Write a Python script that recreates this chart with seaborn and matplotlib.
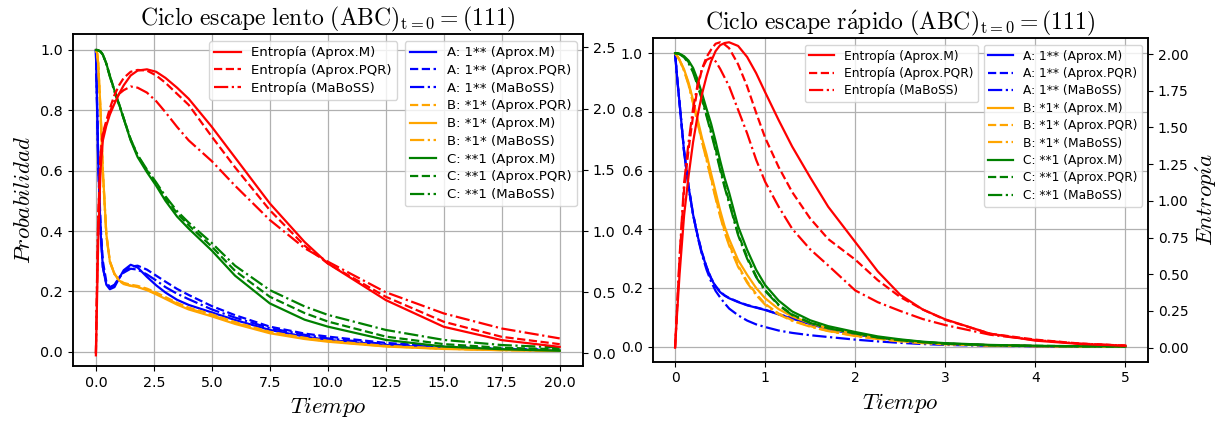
import matplotlib
matplotlib.use("Agg")
import matplotlib.pyplot as plt
import seaborn as sns

# ---------------- data: slow escape cycle ----------------
t_lento = [0, 0.05, 0.1, 0.2, 0.3, 0.45, 0.6, 0.8, 1.0, 1.2, 1.5, 1.8, 2.2, 2.6, 3.0,
           3.5, 4.0, 5.0, 6.0, 7.5, 9.0, 10.0, 12.5, 15.0, 17.5, 20.0]
lento_A_M = [1.0, 0.82, 0.63, 0.40, 0.28, 0.222, 0.207, 0.214, 0.243, 0.270, 0.288, 0.279, 0.248,
             0.220, 0.196, 0.172, 0.155, 0.130, 0.105, 0.072, 0.050, 0.039, 0.022, 0.012, 0.007, 0.004]
lento_A_PQR = [1.0, 0.83, 0.65, 0.42, 0.30, 0.232, 0.214, 0.220, 0.244, 0.265, 0.282, 0.285, 0.272,
               0.252, 0.232, 0.208, 0.188, 0.151, 0.121, 0.083, 0.060, 0.050, 0.029, 0.017, 0.010, 0.006]
lento_A_MaBoSS = [1.0, 0.81, 0.62, 0.40, 0.28, 0.225, 0.212, 0.222, 0.245, 0.262, 0.275, 0.272, 0.256,
                  0.236, 0.214, 0.192, 0.174, 0.140, 0.113, 0.078, 0.056, 0.044, 0.025, 0.014, 0.009, 0.005]
lento_B_M = [1.0, 0.99, 0.955, 0.80, 0.60, 0.39, 0.30, 0.258, 0.236, 0.226, 0.219, 0.214, 0.204,
             0.190, 0.175, 0.156, 0.140, 0.117, 0.092, 0.061, 0.042, 0.033, 0.017, 0.009, 0.005, 0.003]
lento_B_PQR = [1.0, 0.99, 0.955, 0.80, 0.60, 0.39, 0.30, 0.258, 0.237, 0.228, 0.222, 0.218, 0.209,
               0.196, 0.181, 0.162, 0.146, 0.124, 0.098, 0.066, 0.046, 0.036, 0.019, 0.010, 0.006, 0.003]
lento_B_MaBoSS = [1.0, 0.99, 0.952, 0.79, 0.59, 0.385, 0.298, 0.257, 0.235, 0.224, 0.218, 0.215, 0.206,
                  0.193, 0.178, 0.159, 0.143, 0.121, 0.095, 0.064, 0.044, 0.035, 0.018, 0.010, 0.005, 0.003]
lento_C_M = [1.0, 1.0, 0.999, 0.995, 0.985, 0.955, 0.915, 0.866, 0.820, 0.772, 0.700, 0.645, 0.595,
             0.550, 0.500, 0.448, 0.408, 0.335, 0.252, 0.160, 0.106, 0.083, 0.039, 0.017, 0.008, 0.003]
lento_C_PQR = [1.0, 1.0, 0.999, 0.995, 0.985, 0.955, 0.915, 0.866, 0.821, 0.774, 0.703, 0.650, 0.601,
               0.557, 0.509, 0.459, 0.419, 0.348, 0.268, 0.182, 0.128, 0.100, 0.050, 0.025, 0.013, 0.008]
lento_C_MaBoSS = [1.0, 1.0, 0.999, 0.994, 0.984, 0.953, 0.912, 0.862, 0.818, 0.772, 0.704, 0.652, 0.604,
                  0.561, 0.515, 0.466, 0.428, 0.360, 0.285, 0.204, 0.150, 0.122, 0.072, 0.039, 0.022, 0.014]
lento_H_M = [-0.015, 0.45, 0.92, 1.50, 1.74, 1.86, 1.95, 2.04, 2.12, 2.19, 2.27, 2.31, 2.32,
             2.30, 2.25, 2.17, 2.08, 1.85, 1.60, 1.225, 0.91, 0.735, 0.436, 0.218, 0.109, 0.054]
lento_H_PQR = [0.0, 0.58, 1.10, 1.62, 1.80, 1.90, 2.00, 2.11, 2.19, 2.25, 2.30, 2.315, 2.31,
               2.27, 2.21, 2.12, 2.03, 1.77, 1.52, 1.17, 0.88, 0.735, 0.463, 0.259, 0.136, 0.076]
lento_H_MaBoSS = [0.0, 0.60, 1.12, 1.62, 1.79, 1.88, 1.97, 2.06, 2.12, 2.15, 2.18, 2.17, 2.13,
                  2.06, 1.97, 1.85, 1.74, 1.57, 1.37, 1.09, 0.86, 0.75, 0.50, 0.327, 0.204, 0.123]

# ---------------- data: fast escape cycle ----------------
t_rapido = [0, 0.025, 0.05, 0.1, 0.15, 0.2, 0.25, 0.3, 0.35, 0.4, 0.45, 0.5, 0.55, 0.6, 0.7, 0.8,
            0.9, 1.0, 1.15, 1.3, 1.5, 1.7, 2.0, 2.25, 2.5, 2.75, 3.0, 3.5, 4.0, 4.5, 5.0]
rapido_A_M = [1.0, 0.91, 0.83, 0.665, 0.545, 0.45, 0.378, 0.318, 0.27, 0.232, 0.205, 0.186, 0.174, 0.165,
              0.152, 0.141, 0.133, 0.125, 0.110, 0.096, 0.077, 0.060, 0.042, 0.030, 0.021, 0.014, 0.010,
              0.005, 0.002, 0.001, 0.0005]
rapido_A_PQR = [1.0, 0.91, 0.83, 0.667, 0.547, 0.452, 0.380, 0.320, 0.272, 0.234, 0.207, 0.188, 0.175, 0.166,
                0.153, 0.142, 0.134, 0.126, 0.111, 0.097, 0.078, 0.061, 0.043, 0.031, 0.022, 0.015, 0.010,
                0.005, 0.002, 0.001, 0.0005]
rapido_A_MaBoSS = [1.0, 0.91, 0.83, 0.665, 0.545, 0.45, 0.375, 0.312, 0.262, 0.222, 0.19, 0.168, 0.148, 0.130,
                   0.107, 0.089, 0.076, 0.067, 0.055, 0.047, 0.039, 0.033, 0.024, 0.018, 0.013, 0.009, 0.006,
                   0.003, 0.0015, 0.0007, 0.0003]
rapido_B_M = [1.0, 0.99, 0.978, 0.945, 0.90, 0.84, 0.775, 0.71, 0.655, 0.59, 0.528, 0.465, 0.41, 0.367,
              0.295, 0.245, 0.200, 0.165, 0.128, 0.103, 0.080, 0.062, 0.044, 0.032, 0.022, 0.015, 0.010,
              0.005, 0.002, 0.001, 0.0005]
rapido_B_PQR = [1.0, 0.99, 0.977, 0.942, 0.895, 0.832, 0.765, 0.70, 0.64, 0.575, 0.51, 0.45, 0.395, 0.35,
                0.277, 0.222, 0.180, 0.146, 0.113, 0.090, 0.070, 0.054, 0.037, 0.027, 0.019, 0.013, 0.009,
                0.004, 0.002, 0.001, 0.0005]
rapido_B_MaBoSS = [1.0, 0.99, 0.976, 0.94, 0.892, 0.83, 0.762, 0.697, 0.635, 0.57, 0.505, 0.445, 0.39, 0.345,
                   0.272, 0.218, 0.176, 0.143, 0.110, 0.088, 0.068, 0.053, 0.036, 0.026, 0.018, 0.012, 0.008,
                   0.004, 0.002, 0.001, 0.0004]
rapido_C_M = [1.0, 1.0, 0.998, 0.99, 0.975, 0.95, 0.91, 0.862, 0.81, 0.76, 0.70, 0.635, 0.575, 0.525,
              0.41, 0.33, 0.262, 0.21, 0.157, 0.12, 0.09, 0.07, 0.05, 0.035, 0.025, 0.017, 0.012,
              0.006, 0.003, 0.0015, 0.001]
rapido_C_PQR = [1.0, 1.0, 0.998, 0.988, 0.97, 0.94, 0.895, 0.845, 0.79, 0.735, 0.675, 0.61, 0.55, 0.495,
                0.385, 0.305, 0.24, 0.193, 0.143, 0.11, 0.082, 0.064, 0.046, 0.032, 0.023, 0.016, 0.011,
                0.005, 0.003, 0.0015, 0.001]
rapido_C_MaBoSS = [1.0, 1.0, 0.997, 0.986, 0.966, 0.935, 0.89, 0.84, 0.785, 0.728, 0.668, 0.603, 0.543, 0.49,
                   0.38, 0.30, 0.237, 0.19, 0.141, 0.108, 0.081, 0.063, 0.045, 0.031, 0.022, 0.015, 0.010,
                   0.005, 0.002, 0.001, 0.0008]
rapido_H_M = [0.0, 0.26, 0.50, 0.90, 1.17, 1.40, 1.58, 1.73, 1.85, 1.95, 2.02, 2.06, 2.075, 2.08,
              2.055, 1.98, 1.87, 1.74, 1.55, 1.37, 1.16, 0.96, 0.72, 0.52, 0.36, 0.26, 0.193,
              0.095, 0.048, 0.025, 0.014]
rapido_H_PQR = [0.0, 0.30, 0.60, 1.08, 1.35, 1.58, 1.77, 1.90, 1.98, 2.03, 2.07, 2.08, 2.065, 2.04,
                1.93, 1.78, 1.60, 1.43, 1.23, 1.06, 0.88, 0.74, 0.60, 0.46, 0.345, 0.26, 0.19,
                0.095, 0.055, 0.028, 0.014]
rapido_H_MaBoSS = [0.0, 0.30, 0.62, 1.12, 1.40, 1.63, 1.79, 1.90, 1.96, 1.975, 1.95, 1.90, 1.84, 1.78,
                   1.62, 1.46, 1.28, 1.13, 0.96, 0.81, 0.67, 0.56, 0.39, 0.31, 0.25, 0.195, 0.154,
                   0.088, 0.052, 0.028, 0.014]

# ---------------- styling ----------------
plt.rcParams['mathtext.fontset'] = 'cm'
plt.rcParams['font.family'] = ['DejaVu Sans']
LW = 1.6

fig = plt.figure(figsize=(12.22, 4.21), dpi=100)


def draw(ax, t, probs, ents, title, ylims, ylims2, ent_leg_x, tick_fs, leg_fs):
    for vals, color, ls, lab in probs:
        sns.lineplot(x=t, y=vals, ax=ax, color=color, linestyle=ls, lw=LW, label=lab,
                     sort=False, estimator=None)
    ax2 = ax.twinx()
    for vals, color, ls, lab in ents:
        sns.lineplot(x=t, y=vals, ax=ax2, color=color, linestyle=ls, lw=LW, label=lab,
                     sort=False, estimator=None)
    ax.set_ylim(*ylims)
    ax2.set_ylim(*ylims2)
    ax.grid(True, color='#b0b0b0', lw=0.9)
    ax.set_xlabel(r'$Tiempo$', fontsize=16.5)
    ax.set_title(title, fontsize=17)
    ax.tick_params(labelsize=tick_fs)
    ax2.tick_params(labelsize=tick_fs)
    ax2.set_ylabel('')
    ax.set_ylabel('')
    for sp in list(ax.spines.values()) + list(ax2.spines.values()):
        sp.set_linewidth(1.1)
    ax.legend(loc='upper right', bbox_to_anchor=(0.988, 0.98), borderaxespad=0,
              fontsize=leg_fs, labelspacing=0.36)
    ax2.legend(loc='upper right', bbox_to_anchor=(ent_leg_x, 0.98), borderaxespad=0,
               fontsize=leg_fs, labelspacing=0.36)
    return ax2


axL = fig.add_axes([0.0595, 0.131, 0.4175, 0.7875])
probs_L = [
    (lento_A_M, 'blue', '-', 'A: 1** (Aprox.M)'),
    (lento_A_PQR, 'blue', '--', 'A: 1** (Aprox.PQR)'),
    (lento_A_MaBoSS, 'blue', '-.', 'A: 1** (MaBoSS)'),
    (lento_B_PQR, 'orange', '--', 'B: *1* (Aprox.PQR)'),
    (lento_B_M, 'orange', '-', 'B: *1* (Aprox.M)'),
    (lento_B_MaBoSS, 'orange', '-.', 'B: *1* (MaBoSS)'),
    (lento_C_M, 'green', '-', 'C: **1 (Aprox.M)'),
    (lento_C_PQR, 'green', '--', 'C: **1 (Aprox.PQR)'),
    (lento_C_MaBoSS, 'green', '-.', 'C: **1 (MaBoSS)'),
]
ents_L = [
    (lento_H_M, 'red', '-', 'Entropía (Aprox.M)'),
    (lento_H_PQR, 'red', '--', 'Entropía (Aprox.PQR)'),
    (lento_H_MaBoSS, 'red', '-.', 'Entropía (MaBoSS)'),
]
axL2 = draw(axL, t_lento, probs_L, ents_L,
            r'$\mathrm{Ciclo\ escape\ lento\ (ABC)_{t=0} = (111)}$',
            (-0.047, 1.052), (-0.101, 2.606), 0.636, 10.3, 9.5)
axL.set_xlim(-1, 21)
axL.set_ylabel(r'$Probabilidad$', fontsize=16.5)

axR = fig.add_axes([0.534, 0.141, 0.4054, 0.768])
probs_R = [
    (rapido_A_M, 'blue', '-', 'A: 1** (Aprox.M)'),
    (rapido_A_PQR, 'blue', '--', 'A: 1** (Aprox.PQR)'),
    (rapido_A_MaBoSS, 'blue', '-.', 'A: 1** (MaBoSS)'),
    (rapido_B_M, 'orange', '-', 'B: *1* (Aprox.M)'),
    (rapido_B_PQR, 'orange', '--', 'B: *1* (Aprox.PQR)'),
    (rapido_B_MaBoSS, 'orange', '-.', 'B: *1* (MaBoSS)'),
    (rapido_C_M, 'green', '-', 'C: **1 (Aprox.M)'),
    (rapido_C_PQR, 'green', '--', 'C: **1 (Aprox.PQR)'),
    (rapido_C_MaBoSS, 'green', '-.', 'C: **1 (MaBoSS)'),
]
ents_R = [
    (rapido_H_M, 'red', '-', 'Entropía (Aprox.M)'),
    (rapido_H_PQR, 'red', '--', 'Entropía (Aprox.PQR)'),
    (rapido_H_MaBoSS, 'red', '-.', 'Entropía (MaBoSS)'),
]
axR2 = draw(axR, t_rapido, probs_R, ents_R,
            r'$\mathrm{Ciclo\ escape\ r\acute{a}pido\ (ABC)_{t=0} = (111)}$',
            (-0.051, 1.051), (-0.095, 2.107), 0.657, 10.0, 8.8)
axR.set_xlim(-0.25, 5.25)
axR2.set_yticks([0, 0.25, 0.5, 0.75, 1.0, 1.25, 1.5, 1.75, 2.0])
axR2.set_ylabel(r'$Entrop\acute{\imath}a$', fontsize=16.5)

fig.savefig('out.png', dpi=100)
